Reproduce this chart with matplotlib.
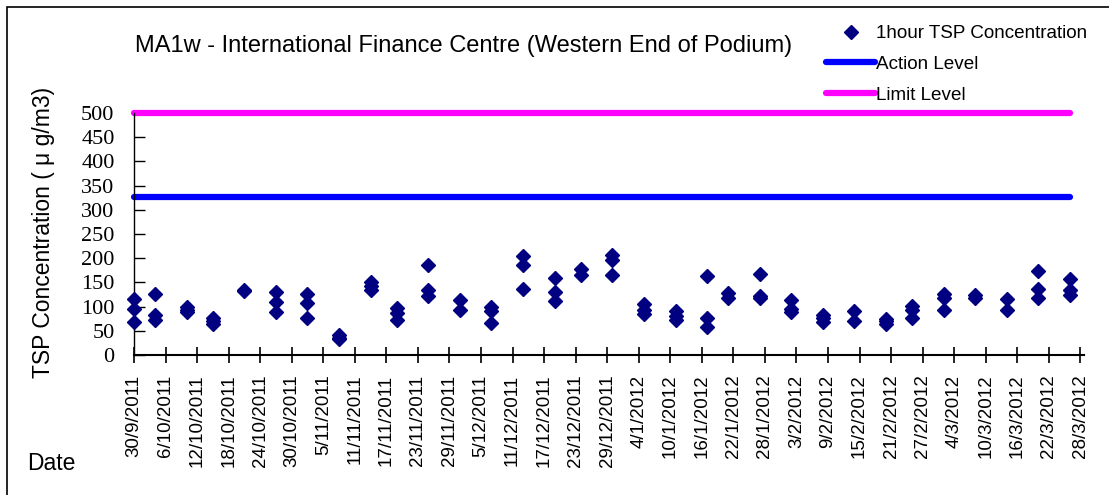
import matplotlib.pyplot as plt
from matplotlib.patches import Rectangle
from datetime import datetime, timedelta

# sampling dates (3 x 1-hour samples per day, some overlapping)
sample_dates = ['30/9/2011', '4/10/2011', '10/10/2011', '15/10/2011', '21/10/2011',
                '27/10/2011', '2/11/2011', '8/11/2011', '14/11/2011', '19/11/2011',
                '25/11/2011', '1/12/2011', '7/12/2011', '13/12/2011', '19/12/2011',
                '24/12/2011', '30/12/2011', '5/1/2012', '11/1/2012', '17/1/2012',
                '21/1/2012', '27/1/2012', '2/2/2012', '8/2/2012', '14/2/2012',
                '20/2/2012', '25/2/2012', '2/3/2012', '8/3/2012', '14/3/2012',
                '20/3/2012', '26/3/2012']

tsp_values = [[115, 96, 68], [127, 83, 72], [100, 93, 88], [76, 70, 64], [135, 132],
              [130, 110, 88], [127, 108, 76], [41, 36, 33], [150, 143, 135], [97, 86, 72],
              [186, 134, 121], [114, 93], [99, 90, 67], [205, 186, 137], [160, 131, 112],
              [177, 165], [207, 196, 165], [106, 93, 84], [91, 80, 72], [164, 76, 57],
              [129, 118], [168, 122, 118], [114, 95, 88], [83, 76, 69], [90, 71],
              [74, 70, 64], [101, 94, 77], [127, 117, 94], [125, 117], [115, 94],
              [174, 136, 117], [156, 134, 123]]

action_level = 326
limit_level = 500

yticks = [0, 50, 100, 150, 200, 250, 300, 350, 400, 450, 500]

start = datetime(2011, 9, 30)
end = datetime(2012, 3, 28)

dates = [datetime.strptime(d, '%d/%m/%Y') for d in sample_dates]
px, py = [], []
for d, vals in zip(dates, tsp_values):
    for v in vals:
        px.append(d)
        py.append(v)

fig = plt.figure(figsize=(11.09, 4.95), dpi=100)
ax = fig.add_axes([134 / 1109, 1 - 355 / 495, (1084 - 134) / 1109, (355 - 113) / 495])

ax.plot(px, py, linestyle='none', marker='D', markersize=7.3, color='#000080',
        clip_on=False, zorder=3, label='1hour TSP Concentration')
ax.plot([dates[0], dates[-1]], [action_level] * 2, color='#0000ff', lw=4.5,
        solid_capstyle='round', clip_on=False, label='Action Level')
ax.plot([dates[0], dates[-1]], [limit_level] * 2, color='#ff00ff', lw=4.5,
        solid_capstyle='round', clip_on=False, label='Limit Level')

ax.set_xlim(start, end + timedelta(days=0.7))
ax.set_ylim(0, 500)

ticks = [start + timedelta(days=6 * i) for i in range(31)]
ax.set_xticks(ticks)
ax.set_xticklabels([f'{t.day}/{t.month}/{t.year}' for t in ticks], rotation=90,
                   fontsize=13.5, family='Liberation Sans')
ax.set_yticks(yticks)
ax.set_yticklabels([str(v) for v in yticks], fontsize=16,
                   family=['Liberation Serif', 'DejaVu Serif'])
ax.tick_params(axis='x', direction='inout', length=12, width=1.2, pad=8)
ax.tick_params(axis='y', direction='in', length=8, width=1, pad=14)

for s in ['top', 'right']:
    ax.spines[s].set_visible(False)
ax.spines['left'].set_linewidth(1)
ax.spines['bottom'].set_linewidth(1.5)

ax.set_ylabel('TSP Concentration ( μ g/m3)', fontsize=16.5, family='Liberation Sans',
              va='center')
ax.yaxis.set_label_coords(-0.095, 0.508)

fig.text(135 / 1109, 1 - 46 / 495,
         'MA1w - International Finance Centre (Western End of Podium)',
         fontsize=17, family='Liberation Sans', va='center', ha='left')
fig.text(27 / 1109, 1 - 463 / 495, 'Date', fontsize=16.5, family='Liberation Sans',
         va='center', ha='left')

leg = fig.legend(loc='upper left', bbox_to_anchor=(826 / 1109, 1 - 25 / 495),
                 frameon=False, handlelength=2.6, handletextpad=0.05,
                 labelspacing=0.72, borderpad=0, borderaxespad=0,
                 prop={'family': 'Liberation Sans', 'size': 13.6})

fig.add_artist(Rectangle((7 / 1109, -0.1), 1.2, 1 - 7 / 495 + 0.1,
                         transform=fig.transFigure, fill=False, edgecolor='black',
                         lw=1.2))

fig.savefig('out.png', dpi=100)
